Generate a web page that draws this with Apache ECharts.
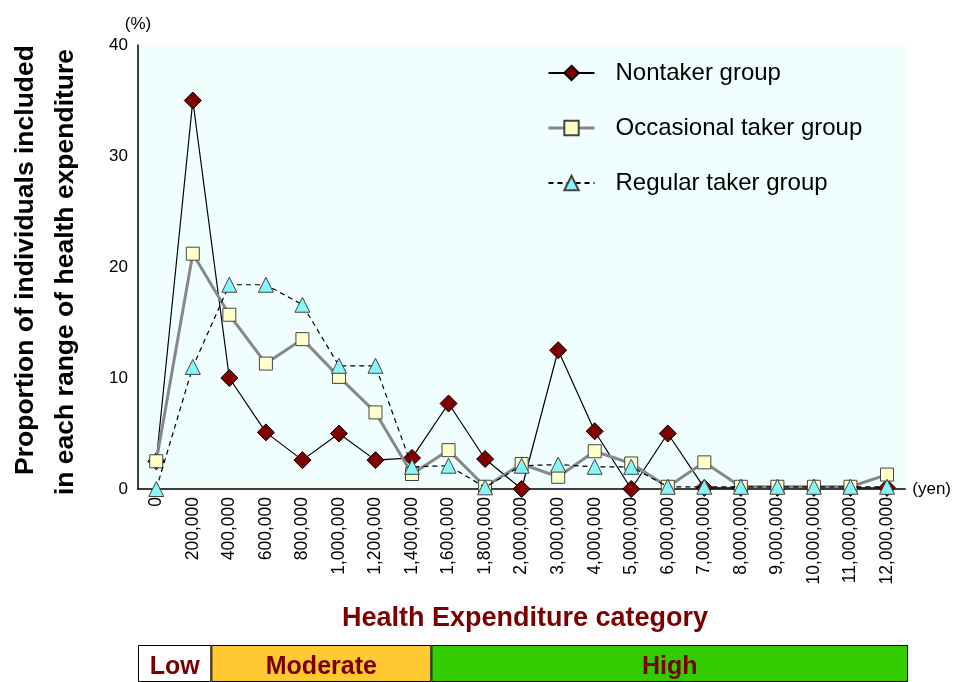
<!DOCTYPE html>
<html><head><meta charset="utf-8">
<script src="https://cdn.jsdelivr.net/npm/echarts@6/dist/echarts.min.js"></script>
<style>html,body{margin:0;padding:0;background:#fff}#c{width:954px;height:682px}</style>
</head><body><div id="c"></div>
<script>
const categories = ['0','200,000','400,000','600,000','800,000','1,000,000','1,200,000','1,400,000','1,600,000','1,800,000','2,000,000','3,000,000','4,000,000','5,000,000','6,000,000','7,000,000','8,000,000','9,000,000','10,000,000','11,000,000','12,000,000'];
const nontaker   = [2.5, 35, 10, 5.1, 2.6, 5.0, 2.6, 2.8, 7.7, 2.7, 0, 12.5, 5.2, 0, 5.0, 0.1, 0.1, 0.1, 0.1, 0.1, 0.1];
const occasional = [2.5, 21.2, 15.7, 11.3, 13.5, 10.1, 6.9, 1.35, 3.5, 0.2, 2.25, 1.1, 3.4, 2.3, 0.2, 2.4, 0.2, 0.2, 0.2, 0.2, 1.3];
const regular    = [0, 11.0, 18.4, 18.4, 16.6, 11.1, 11.1, 2.0, 2.1, 0.15, 2.1, 2.2, 2.0, 2.0, 0.2, 0.2, 0.2, 0.2, 0.2, 0.2, 0.2];
const seriesNames = ['Nontaker group','Occasional taker group','Regular taker group'];
const yTicks = [0, 10, 20, 30, 40];
const bandNames = ['Low','Moderate','High'];
const bandSizes = [2, 6, 13]; // number of categories covered
const bandColors = ['#ffffff','#ffc933','#33cc00'];

const FONT = 'Liberation Sans, Arial, Helvetica, sans-serif';
const dark = '#7a0000';
const chart = echarts.init(document.getElementById('c'));
chart.setOption({
  backgroundColor: '#fff',
  animation: false,
  textStyle: {fontFamily: FONT},
  title: {
    text: 'Health Expenditure category', left: 520, top: 600, textAlign: 'center',
    textStyle: {fontSize: 27, fontWeight: 'bold', color: dark, fontFamily: FONT}
  },
  legend: {
    orient: 'vertical', left: 547, top: 61, padding: 0, itemWidth: 46, itemHeight: 18, itemGap: 31,
    data: [
      {name: seriesNames[0]},
      {name: seriesNames[1], lineStyle: {width: 3, color: '#888'}},
      {name: seriesNames[2]}
    ],
    textStyle: {fontSize: 24, lineHeight: 24, color: '#000', padding: [0,0,0,16]}
  },
  graphic: [
    {type: 'text', x: 26, y: 260, rotation: Math.PI/2, style: {text: 'Proportion of individuals included', fontSize: 26.5, fontWeight: 'bold', fill: '#000', fontFamily: FONT, align: 'center', verticalAlign: 'middle'}},
    {type: 'text', x: 66, y: 272, rotation: Math.PI/2, style: {text: 'in each range of health expenditure', fontSize: 26.5, fontWeight: 'bold', fill: '#000', fontFamily: FONT, align: 'center', verticalAlign: 'middle'}}
  ],
  grid: [
    {left: 138, top: 45, right: 47, bottom: 193, show: true, backgroundColor: '#f1fefe', borderWidth: 0, containLabel: false},
    {left: 138, top: 645, right: 46, height: 40, containLabel: false}
  ],
  xAxis: [
    {type: 'category', data: categories, gridIndex: 0, boundaryGap: true,
     axisLine: {lineStyle: {color: '#000', width: 1.5}}, axisTick: {show: false},
     axisLabel: {rotate: 90, fontSize: 17.5, color: '#000', margin: 8, interval: 0},
     name: '(yen)', nameLocation: 'end', nameGap: 7, nameTextStyle: {fontSize: 17, color: '#000'}},
    {type: 'value', gridIndex: 1, min: 0, max: 21, show: false}
  ],
  yAxis: [
    {type: 'value', gridIndex: 0, min: 0, max: 40, interval: 10,
     axisLine: {show: true, lineStyle: {color: '#000', width: 1.5}}, axisTick: {show: false},
     splitLine: {show: false},
     axisLabel: {fontSize: 17, color: '#000', margin: 10, formatter: v => yTicks.includes(v) ? String(v) : ''},
     name: '(%)', nameLocation: 'end', nameGap: 12, nameTextStyle: {fontSize: 17, color: '#000', align: 'center'}},
    {type: 'category', gridIndex: 1, data: ['band'], show: false}
  ],
  series: [
    {name: seriesNames[0], type: 'line', data: nontaker, symbol: 'diamond', symbolSize: 17,
     lineStyle: {color: '#000', width: 1.2}, itemStyle: {color: '#800000', borderColor: '#000', borderWidth: 1}, z: 3},
    {name: seriesNames[1], type: 'line', data: occasional, symbol: 'rect', symbolSize: 13,
     lineStyle: {color: '#888', width: 3}, itemStyle: {color: '#ffffcc', borderColor: '#444', borderWidth: 1}, z: 4},
    {name: seriesNames[2], type: 'line', data: regular, symbol: 'triangle', symbolSize: 15,
     lineStyle: {color: '#000', width: 1.2, type: [5,4]}, itemStyle: {color: '#88f6f6', borderColor: '#444', borderWidth: 1}, z: 5},
    ...bandNames.map((n, i) => ({
      name: n, type: 'bar', xAxisIndex: 1, yAxisIndex: 1, stack: 'band', barWidth: '100%',
      data: [bandSizes[i]],
      itemStyle: {color: bandColors[i], borderColor: '#000', borderWidth: 1},
      label: {show: true, position: 'inside', formatter: n, fontSize: 25, fontWeight: 'bold', color: dark,
              fontFamily: FONT, offset: [0, 4]}
    }))
  ]
});
</script></body></html>
